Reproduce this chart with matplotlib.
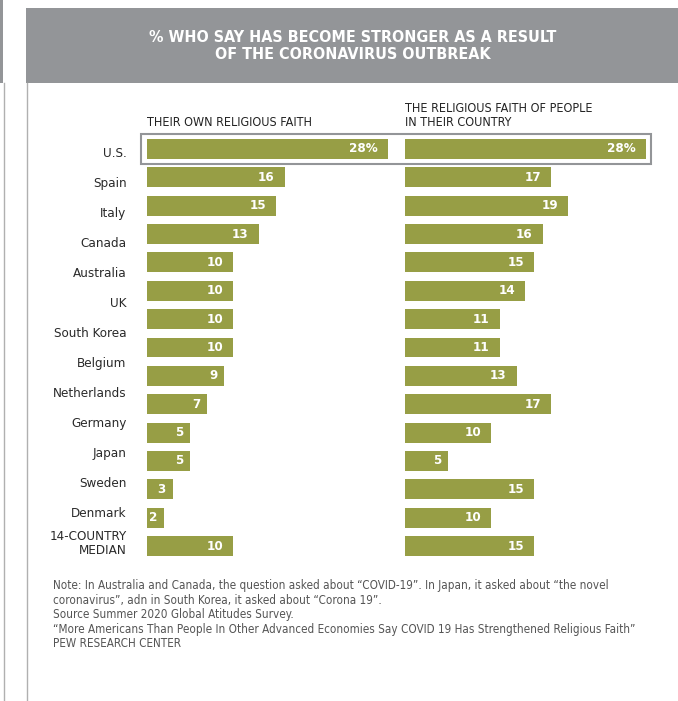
# faith stronger after coronavirus - two panel bar chart

import matplotlib.pyplot as plt
from matplotlib.patches import Rectangle
from matplotlib.transforms import blended_transform_factory

plt.rcParams['font.family'] = ['DejaVu Sans']
plt.rcParams['font.stretch'] = 'condensed'

countries = ['U.S.', 'Spain', 'Italy', 'Canada', 'Australia', 'UK', 'South Korea',
             'Belgium', 'Netherlands', 'Germany', 'Japan', 'Sweden', 'Denmark',
             '14-COUNTRY\nMEDIAN']
own_faith = [28, 16, 15, 13, 10, 10, 10, 10, 9, 7, 5, 5, 3, 2, 10]
country_faith = [28, 17, 19, 16, 15, 14, 11, 11, 13, 17, 10, 5, 15, 10, 15]

title = '% WHO SAY HAS BECOME STRONGER AS A RESULT\nOF THE CORONAVIRUS OUTBREAK'
head_left = 'THEIR OWN RELIGIOUS FAITH'
head_right = 'THE RELIGIOUS FAITH OF PEOPLE\nIN THEIR COUNTRY'
note = ('Note: In Australia and Canada, the question asked about \u201cCOVID-19\u201d. '
        'In Japan, it asked about \u201cthe novel\n'
        'coronavirus\u201d, adn in South Korea, it asked about \u201cCorona 19\u201d.\n'
        'Source Summer 2020 Global Atitudes Survey.\n'
        '\u201cMore Americans Than People In Other Advanced Economies Say COVID 19 '
        'Has Strengthened Religious Faith\u201d\n'
        'PEW RESEARCH CENTER')

olive = '#979e45'
grey = '#939598'

W, H = 678, 701
fig = plt.figure(figsize=(W / 100, H / 100), dpi=100)


def fx(px):
    return px / W


def fy(py):
    return 1 - py / H


# page decorations
fig.patches.append(Rectangle((0, fy(83)), fx(3), 1 - fy(83), transform=fig.transFigure,
                             color=grey, lw=0))
fig.add_artist(plt.Line2D([fx(3.5), fx(3.5)], [0, fy(83)], transform=fig.transFigure,
                          color='#b0b0b0', lw=1))
fig.add_artist(plt.Line2D([fx(26.5), fx(26.5)], [0, fy(83)], transform=fig.transFigure,
                          color='#b0b0b0', lw=1))
fig.patches.append(Rectangle((fx(26), fy(83)), 1 - fx(26), fy(8) - fy(83),
                             transform=fig.transFigure, color=grey, lw=0))
fig.text(fx(353), fy(46), title, color='white', fontsize=11.5, fontweight='bold',
         ha='center', va='center', linespacing=1.15)

# bar panels
step = 28.36
top = 149 - step / 2
bot = 546 + step / 2
axes = []
for left, vals in [(147, own_faith), (405, country_faith)]:
    ax = fig.add_axes([fx(left), fy(bot), fx(258), (bot - top) / H])
    y = list(range(len(vals)))
    ax.barh(y, vals, height=20 / step, color=olive)
    for i, v in enumerate(vals):
        lab = f'{v}%' if i == 0 else str(v)
        pad = -10 if v >= 10 else -7
        ax.annotate(lab, (v, i), xytext=(pad, 0), textcoords='offset pixels',
                    ha='right', va='center', color='white', fontsize=9.5,
                    fontweight='bold')
    ax.set_xlim(0, 30)
    ax.set_ylim(len(vals) - 0.5, -0.5)
    ax.axis('off')
    axes.append(ax)

fig.text(fx(147), fy(126), head_left, fontsize=9, color='#222222', ha='left',
         va='baseline')
fig.text(fx(405), fy(126), head_right, fontsize=9, color='#222222', ha='left',
         va='baseline', linespacing=1.15)

# highlight box around U.S.
tr = blended_transform_factory(fig.transFigure, axes[0].transData)
fig.patches.append(Rectangle((fx(141), -0.52), fx(651) - fx(141), 1.04, transform=tr,
                             fill=False, edgecolor=grey, lw=1.5))

# country labels (spaced independently of the bars, as in the original)
lstep = 30
ltop = 152 - lstep / 2
lbot = 152 + 13 * lstep + lstep / 2
ax_lab = fig.add_axes([fx(128), fy(lbot), 0.001, (lbot - ltop) / H])
ax_lab.set_ylim(len(countries) - 0.5, -0.5)
ax_lab.set_yticks(range(len(countries)))
ax_lab.set_yticklabels(countries, fontsize=9.6, color='#2a2a2a')
ax_lab.get_yticklabels()[-1].set_linespacing(1.0)
ax_lab.tick_params(length=0, pad=1)
ax_lab.set_xticks([])
for s in ax_lab.spines.values():
    s.set_visible(False)
ax_lab.patch.set_visible(False)

fig.text(fx(53), fy(579), note, fontsize=8.4, color='#555555', ha='left', va='top',
         linespacing=1.16)

fig.savefig('out.png', dpi=100)
